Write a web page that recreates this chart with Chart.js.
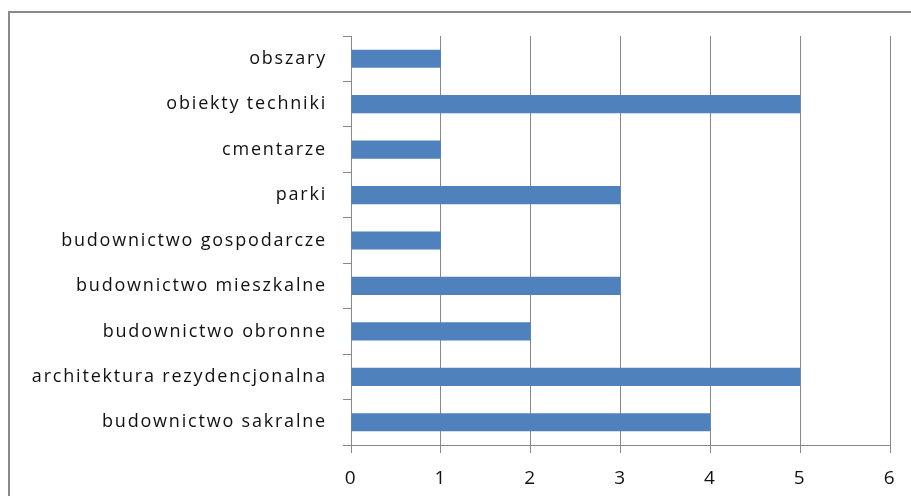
<!DOCTYPE html>
<html>
<head>
<meta charset="utf-8">
<script src="https://cdn.jsdelivr.net/npm/chart.js@4"></script>
<style>
  html, body { margin: 0; padding: 0; background: #fff; overflow: hidden; }
  #wrap { position: relative; width: 911px; height: 496px; }
  #frame { position: absolute; left: 8px; top: 11px; width: 1000px; height: 600px; border: 2px solid #8a8a8a; }
  canvas { position: absolute; left: 0; top: 0; }
</style>
</head>
<body>
<div id="wrap">
  <div id="frame"></div>
  <canvas id="myChart" width="911" height="496"></canvas>
</div>
<script>
// kategorie od góry do dołu
const labels = ['obszary',
                'obiekty techniki',
                'cmentarze',
                'parki',
                'budownictwo gospodarcze',
                'budownictwo mieszkalne',
                'budownictwo obronne',
                'architektura rezydencjonalna',
                'budownictwo sakralne'];
const values = [1, 5, 1, 3, 1, 3, 2, 5, 4];
const xTicks = [0, 1, 2, 3, 4, 5, 6];

const gridColor = '#888888';
const ctx = document.getElementById('myChart');

// szerszy rozstaw liter jak w oryginale
const spacing = {
    id: 'spacing',
    beforeDraw(chart) { chart.ctx.letterSpacing = '1.8px'; }
};

var chart = new Chart(ctx, {
    type: 'bar',
    data: {
        labels: labels,
        datasets: [{
            data: values,
            backgroundColor: '#4f81bd',
            barPercentage: 0.4,
            categoryPercentage: 1.0
        }]
    },
    plugins: [spacing],
    options: {
        indexAxis: 'y',
        responsive: false,
        animation: false,
        layout: { padding: { top: 36, right: 21, left: 0, bottom: 0 } },
        plugins: { legend: { display: false }, tooltip: { enabled: false } },
        scales: {
            x: {
                min: 0,
                max: 6,
                afterBuildTicks: function(scale) {
                    scale.ticks = xTicks.map(v => ({value: v}));
                },
                afterFit: function(scale) { scale.height = 51; },
                grid: { color: gridColor, lineWidth: 1, tickLength: 8 },
                border: { color: gridColor, width: 1 },
                ticks: {
                    color: '#111',
                    padding: 14,
                    font: { family: 'Open Sans', size: 19 }
                }
            },
            y: {
                afterFit: function(scale) { scale.width = 351; },
                grid: { drawOnChartArea: false, offset: true, color: gridColor, tickLength: 8 },
                border: { color: gridColor, width: 1 },
                ticks: {
                    color: '#111',
                    padding: 16,
                    font: { family: 'Open Sans', size: 18 }
                }
            }
        }
    }
});
</script>
</body>
</html>
